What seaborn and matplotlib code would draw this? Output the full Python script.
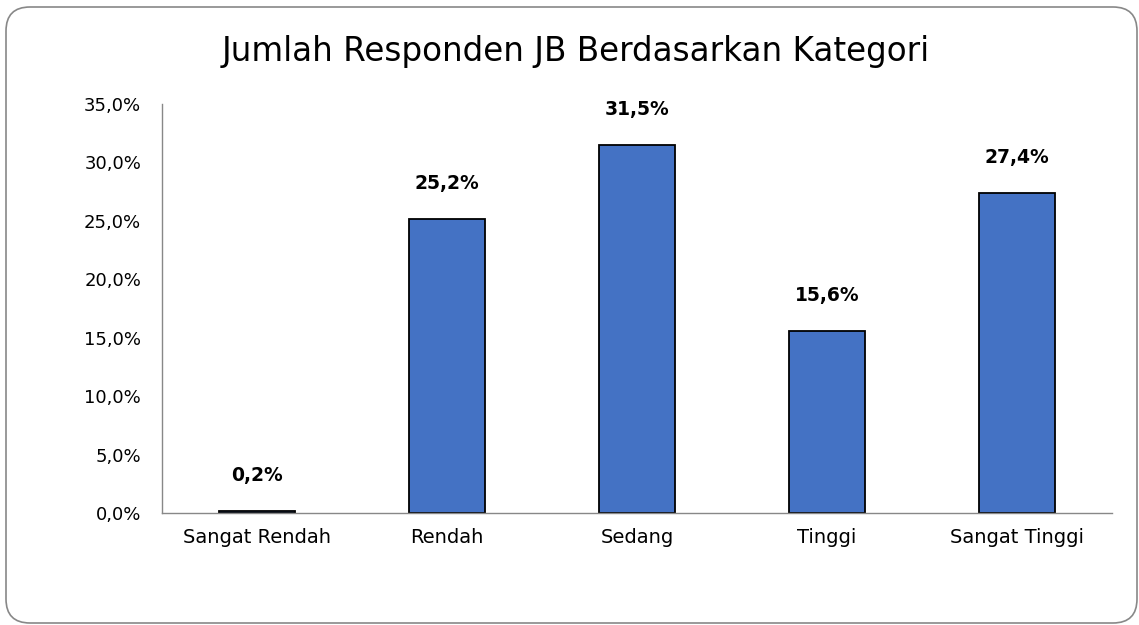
import pandas as pd
import seaborn as sns
import matplotlib.pyplot as plt
from matplotlib.patches import FancyBboxPatch
from matplotlib.transforms import IdentityTransform
from matplotlib.ticker import FuncFormatter

kategori = ['Sangat Rendah', 'Rendah', 'Sedang', 'Tinggi', 'Sangat Tinggi']
persen = [0.2, 25.2, 31.5, 15.6, 27.4]
label_persen = ['0,2%', '25,2%', '31,5%', '15,6%', '27,4%']
yticks = [0, 5, 10, 15, 20, 25, 30, 35]

df = pd.DataFrame({'Kategori': kategori, 'Persen': persen})

sns.set_style('white')
plt.rcParams['font.family'] = ['DejaVu Sans']

fig = plt.figure(figsize=(11.39, 6.25), dpi=100)
ax = fig.add_axes([162 / 1139, 1 - 513 / 625, 950 / 1139, 409 / 625])

sns.barplot(data=df, x='Kategori', y='Persen', color='#4472C4', saturation=1,
            width=0.4, edgecolor='black', linewidth=1.3, ax=ax)

for i, (v, lab) in enumerate(zip(persen, label_persen)):
    ax.text(i, v + 2.2, lab, ha='center', va='bottom', fontsize=13.5,
            fontweight='bold', color='black')

ax.set_ylim(0, 35)
ax.set_xlim(-0.5, 4.5)
ax.set_yticks(yticks)
ax.yaxis.set_major_formatter(FuncFormatter(lambda v, p: f'{v:.1f}%'.replace('.', ',')))
ax.set_xlabel('')
ax.set_ylabel('')
ax.tick_params(axis='both', colors='black', length=0)
ax.tick_params(axis='x', pad=11, labelsize=14)
ax.tick_params(axis='y', pad=15, labelsize=13)
for s in ['top', 'right']:
    ax.spines[s].set_visible(False)
for s in ['left', 'bottom']:
    ax.spines[s].set_color('#888888')
    ax.spines[s].set_linewidth(1)

fig.text(576 / 1139, 1 - 52 / 625, 'Jumlah Responden JB Berdasarkan Kategori',
         ha='center', va='center', fontsize=23.5, color='black')

# rounded frame, in pixels (origin bottom-left)
box = FancyBboxPatch((6, 2), 1131, 616,
                     boxstyle='round,pad=0,rounding_size=24',
                     transform=IdentityTransform(), facecolor='none',
                     edgecolor='#888888', linewidth=1.2, clip_on=False)
fig.patches.append(box)

fig.savefig('out.png', dpi=100)
